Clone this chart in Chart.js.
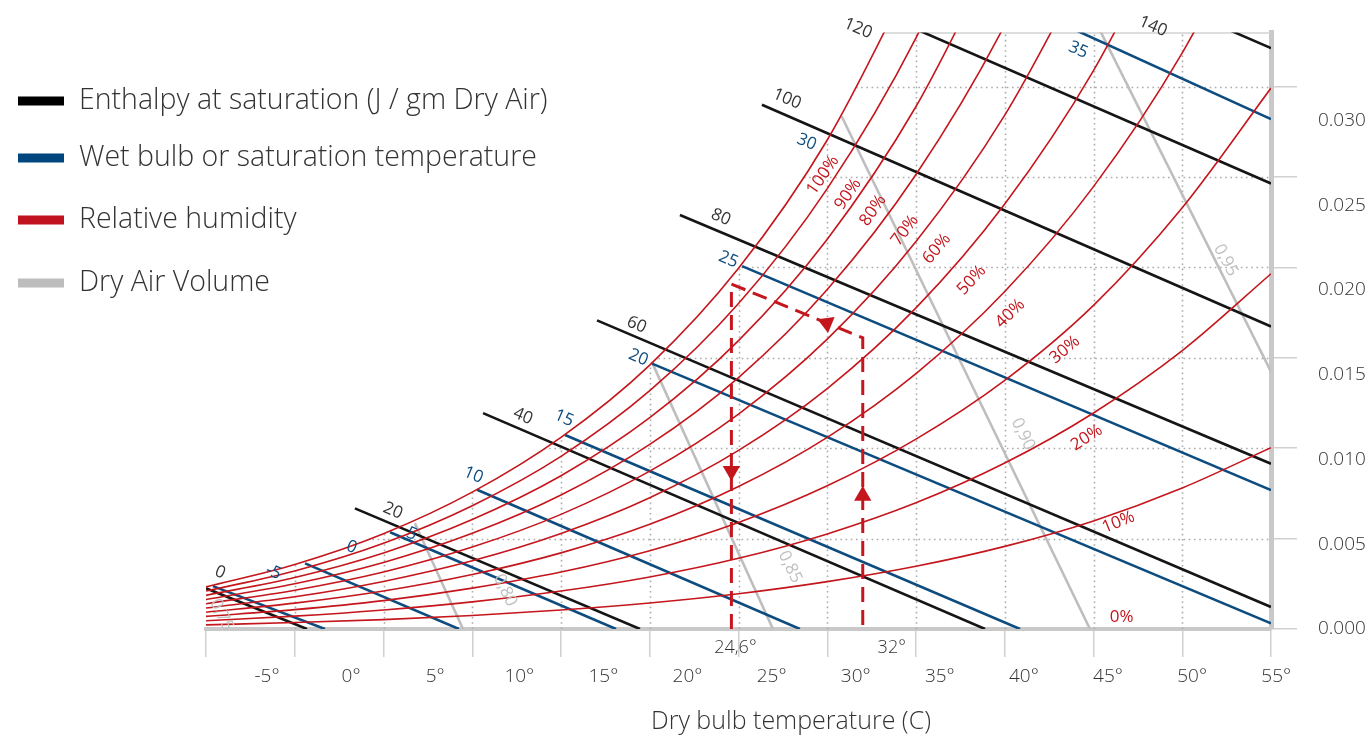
<!DOCTYPE html>
<html><head><meta charset="utf-8">
<script src="https://cdn.jsdelivr.net/npm/chart.js@4.4.1/dist/chart.umd.min.js"></script>
<style>html,body{margin:0;padding:0;background:#fff;}#wrap{width:1372px;height:741px;}</style>
</head><body><div id="wrap"><canvas id="c" width="1372" height="741"></canvas></div>
<script>
// ---------------- data ----------------
const TEMPS = [-5,0,5,10,15,20,25,30,35,40,45,50,55];
const RH_10  = [0.00023,0.00036,0.00052,0.00075,0.00105,0.00144,0.00195,0.00262,0.00347,0.00457,0.00598,0.00780,0.01003];
const RH_20  = [0.00046,0.00071,0.00105,0.00150,0.00210,0.00288,0.00391,0.00526,0.00698,0.00918,0.01195,0.01540,0.01965];
const RH_30  = [0.00070,0.00107,0.00157,0.00226,0.00315,0.00433,0.00589,0.00792,0.01050,0.01375,0.01790,0.02330,0.02992];
const RH_40  = [0.00093,0.00143,0.00210,0.00301,0.00421,0.00579,0.00788,0.01060,0.01413,0.01867,0.02447,0.03187,0.04125];
const RH_50  = [0.00116,0.00178,0.00263,0.00377,0.00528,0.00726,0.00988,0.01330,0.01776,0.02351,0.03089,0.04035];
const RH_60  = [0.00140,0.00214,0.00315,0.00453,0.00634,0.00873,0.01189,0.01603,0.02143,0.02842,0.03744];
const RH_70  = [0.00163,0.00250,0.00368,0.00529,0.00741,0.01021,0.01391,0.01878,0.02514,0.03341,0.04412];
const RH_80  = [0.00186,0.00285,0.00421,0.00606,0.00848,0.01169,0.01595,0.02156,0.02890,0.03848];
const RH_90  = [0.00210,0.00321,0.00474,0.00682,0.00955,0.01318,0.01800,0.02436,0.03270,0.04362];
const RH_100 = [0.00233,0.00357,0.00527,0.00757,0.01060,0.01460,0.01995,0.02705,0.03650];
const RH_LABELS = ['10%','20%','30%','40%','50%','60%','70%','80%','90%','100%'];

// enthalpy lines (J/g dry air): start and end points
const ENTH_VALUES = [0,20,40,60,80,100,120,140];
const ENTH_T0 = [-5, 3.39, 10.61, 17.03, 21.70, 26.32, 35.18, 52.72];
const ENTH_W0 = [0.00225,0.00667,0.01194,0.01707,0.02290,0.02900,0.0331,0.0331];
const ENTH_T1 = [0.69, 19.45, 38.89, 55, 55, 55, 55, 55];
const ENTH_W1 = [0, 0, 0, 0.00122, 0.00914, 0.01673, 0.02464, 0.03213];

// wet bulb lines (C)
const WB_VALUES = [-5,0,5,10,15,20,25,35];
const WB_T0 = [-4.61, 0.58, 5.37, 10.27, 15.23, 20.13, 25.20, 44.05];
const WB_W0 = [0.00237,0.00363,0.00535,0.00770,0.01073,0.01468,0.02007,0.0331];
const WB_T1 = [1.70, 9.25, 18.10, 28.46, 40.86, 55, 55, 55];
const WB_W1 = [0, 0, 0, 0, 0, 0.00031, 0.00768, 0.02820];

// dry air volume lines (m3/kg)
const VOL_VALUES = [0.80, 0.85, 0.90, 0.95];
const VOL_T0 = [6.77, 20.11, 30.81, 45.37];
const VOL_W0 = [0.00585, 0.01479, 0.02836, 0.0331];
const VOL_T1 = [9.48, 26.94, 44.80, 55];
const VOL_W1 = [0, 0, 0, 0.01423];

// process path (dashed) and its arrows
const PROCESS_T = [24.6, 24.6, 32, 32];
const PROCESS_W = [0, 0.01908, 0.01611, 0];
const ARROW_T = [24.6, 32, 29.97];
const ARROW_W = [0.00874, 0.00737, 0.01692];
const ARROW_ROT = [180, 0, -67.7];

// axis ticks & labels
const GRID_T = [-5,0,5,10,15,20,25,30,35,40,45,50,55];
const GRID_W = [0,0.005,0.010,0.015,0.020,0.025,0.030];
const X_LABELS = [-5,0,5,10,15,20,25,30,35,40,45,50,55];
const Y_LABELS = [0,0.005,0.010,0.015,0.020,0.025,0.030];
const MARK_TEXT = ['24,6°','32°'];
const MARK_T = [24.6, 32];

const LEGEND_TEXT = ['Enthalpy at saturation (J / gm Dry Air)','Wet bulb or saturation temperature','Relative humidity','Dry Air Volume'];

// ---------------- styles ----------------
const RED='#c4161c', BLUE='#0d4c7f', BLACK='#151515', GRAY='#bebebe';
const LEGEND_COLORS=['#000000','#00467e','#c1121f','#bdbdbd'];
const FONT='"Open Sans", Lato, sans-serif';
const W8='300', W8S='400';
const TXT='#333333';

// label annotations: text, T, W, rotation(deg), color
const LINE_LABELS = [
  ['0',-4.21,0.00313,23,TXT],['20',5.53,0.00654,23,TXT],['40',12.86,0.01177,23,TXT],['60',19.26,0.01683,23,TXT],
  ['80',24.01,0.02277,23,TXT],['100',27.73,0.02932,23,TXT],['120',31.73,0.03322,23,TXT],['140',48.35,0.03333,23,TXT],
  ['-5',-1.21,0.00315,23,BLUE],['0',3.21,0.00453,23,BLUE],['5',6.59,0.00526,23,BLUE],['10',10.06,0.00852,23,BLUE],
  ['15',15.17,0.01166,23,BLUE],['20',19.36,0.01501,23,BLUE],['25',24.43,0.02044,23,BLUE],['30',28.84,0.02693,23,BLUE],
  ['35',44.14,0.03203,23,BLUE],
  ['0,75',-4.12,0.00077,64,'#c0c0c0'],['0,80',11.85,0.00214,64,'#c0c0c0'],['0,85',27.90,0.00343,64,'#c0c0c0'],
  ['0,90',41.03,0.01078,64,'#c0c0c0'],['0,95',52.45,0.02040,62,'#c0c0c0'],
  ['100%',29.76,0.02510,-55,RED],['90%',31.17,0.02405,-55,RED],['80%',32.58,0.02315,-55,RED],['70%',34.38,0.02205,-53,RED],
  ['60%',36.17,0.02103,-50,RED],['50%',38.14,0.01929,-47,RED],['40%',40.30,0.01745,-44,RED],['30%',43.39,0.01544,-40,RED],
  ['20%',44.62,0.01058,-33,RED],['10%',46.40,0.00590,-22,RED],['0%',46.59,0.00064,0,RED]
];

// ---------------- datasets ----------------
const curve = (W) => W.map((w,i)=>({x:TEMPS[i], y:w}));
const seg = (T0,W0,T1,W1,i) => [{x:T0[i],y:W0[i]},{x:T1[i],y:W1[i]}];
const base = {pointRadius:0,pointHoverRadius:0,fill:false,clip:0,capBezierPoints:false};

const datasets = [];
datasets.push(Object.assign({}, base, {label:'process', data:PROCESS_T.map((t,i)=>({x:t,y:PROCESS_W[i]})),
  borderColor:RED, borderWidth:3, borderDash:[15,8], tension:0}));
datasets.push({label:'arrows', data:ARROW_T.map((t,i)=>({x:t,y:ARROW_W[i]})), showLine:false,
  pointStyle:'triangle', pointRadius:10, pointHoverRadius:10, pointRotation:ARROW_ROT,
  backgroundColor:RED, borderColor:RED, borderWidth:0, clip:false});
const RH_SERIES=[RH_10,RH_20,RH_30,RH_40,RH_50,RH_60,RH_70,RH_80,RH_90,RH_100];
RH_SERIES.forEach((s,i)=>datasets.push(Object.assign({}, base, {label:'RH '+RH_LABELS[i], data:curve(s),
  borderColor:RED, borderWidth:1.6, cubicInterpolationMode:'monotone'})));
const SAT_INDEX = datasets.length-1;
ENTH_VALUES.forEach((v,i)=>datasets.push(Object.assign({}, base, {label:'h '+v, data:seg(ENTH_T0,ENTH_W0,ENTH_T1,ENTH_W1,i),
  borderColor:BLACK, borderWidth:2.6})));
WB_VALUES.forEach((v,i)=>datasets.push(Object.assign({}, base, {label:'wb '+v, data:seg(WB_T0,WB_W0,WB_T1,WB_W1,i),
  borderColor:BLUE, borderWidth:2.6})));
VOL_VALUES.forEach((v,i)=>datasets.push(Object.assign({}, base, {label:'v '+v, data:seg(VOL_T0,VOL_W0,VOL_T1,VOL_W1,i),
  borderColor:GRAY, borderWidth:2.6})));

// ---------------- plugins ----------------
const gridPlugin = {
  id:'satGrid',
  beforeDatasetsDraw(chart){
    const {ctx, chartArea:a, scales:{x,y}} = chart;
    const meta = chart.getDatasetMeta(SAT_INDEX);
    const line = meta.dataset, p = meta.data;
    ctx.save();
    ctx.beginPath();
    if (line && typeof line.path === 'function') {
      if (line.updateControlPoints) line.updateControlPoints(a, 'x');
      line.path(ctx);
    } else {
      ctx.moveTo(p[0].x,p[0].y); p.forEach(q=>ctx.lineTo(q.x,q.y));
    }
    const last=p[p.length-1], first=p[0];
    ctx.lineTo(a.right+60,last.y); ctx.lineTo(a.right+60,a.bottom+60);
    ctx.lineTo(first.x-60,a.bottom+60); ctx.lineTo(first.x-60,first.y); ctx.closePath();
    ctx.clip();
    ctx.strokeStyle='#ababab'; ctx.lineWidth=1.6; ctx.setLineDash([1.6,3.6]);
    ctx.beginPath();
    GRID_T.slice(1,-1).forEach(t=>{const px=Math.round(x.getPixelForValue(t))+0.5; ctx.moveTo(px,a.bottom); ctx.lineTo(px,a.top);});
    GRID_W.slice(1).forEach(w=>{const py=Math.round(y.getPixelForValue(w))+0.5; ctx.moveTo(a.left,py); ctx.lineTo(a.right,py);});
    ctx.stroke();
    ctx.setLineDash([]); ctx.strokeStyle='#d2d2d2'; ctx.lineWidth=1.5;
    ctx.beginPath(); ctx.moveTo(a.left,a.top+0.5); ctx.lineTo(a.right,a.top+0.5); ctx.stroke();
    ctx.restore();
  }
};

const labelPlugin = {
  id:'labels',
  afterDraw(chart){
    const {ctx, chartArea:a, scales:{x,y}} = chart;
    ctx.save();
    ctx.textAlign='center'; ctx.textBaseline='middle';
    ctx.font=W8S+' 17px '+FONT;
    LINE_LABELS.forEach(([t,T,W,rot,col])=>{
      ctx.save();
      ctx.translate(x.getPixelForValue(T), y.getPixelForValue(W));
      ctx.rotate(rot*Math.PI/180);
      ctx.fillStyle=col; ctx.fillText(t,0,0);
      ctx.restore();
    });
    // marker labels below the axis
    ctx.fillStyle=TXT; ctx.font=W8+' 18px '+FONT;
    ctx.fillText(MARK_TEXT[0], x.getPixelForValue(MARK_T[0])+4, a.bottom+19);
    ctx.fillText(MARK_TEXT[1], x.getPixelForValue(MARK_T[1])+29, a.bottom+19);
    // axis title
    ctx.font=W8+' 25px '+FONT; ctx.fillStyle=TXT;
    ctx.fillText('Dry bulb temperature (C)', 791, 722);
    // legend
    ctx.textAlign='left';
    const rows=[101,158,220,283];
    LEGEND_TEXT.forEach((s,i)=>{
      ctx.fillStyle=LEGEND_COLORS[i]; ctx.fillRect(18,rows[i]-4.5,46,9);
      ctx.fillStyle=TXT; ctx.font=W8+' 28.5px '+FONT; ctx.fillText(s,79,rows[i]);
    });
    ctx.restore();
  }
};

// ---------------- chart ----------------
const setTicks = (vals) => (s) => { s.ticks = vals.map(v=>({value:v})); };
new Chart(document.getElementById('c'), {
  type:'line',
  data:{datasets},
  options:{
    responsive:false, animation:false, events:[],
    layout:{padding:{left:206, top:29, right:0, bottom:0}},
    plugins:{legend:{display:false}, tooltip:{enabled:false}, title:{display:false}},
    scales:{
      x:{type:'linear', min:-5, max:55, position:'bottom', weight:0,
        afterBuildTicks:setTicks(GRID_T),
        grid:{drawOnChartArea:false, drawTicks:true, tickLength:28, color:'#d0d0d0', lineWidth:1.5},
        border:{display:true, color:'#c9c9c9', width:4},
        ticks:{display:false}, afterFit:(s)=>{s.height=30;}},
      xl:{type:'linear', min:-8.627, max:54.69, position:'bottom', weight:1,
        afterBuildTicks:setTicks(X_LABELS),
        grid:{display:false, drawTicks:false}, border:{display:false},
        ticks:{callback:(v)=>v+'°', font:{family:FONT, size:19, weight:W8}, color:TXT, padding:6, maxRotation:0, autoSkip:false},
        afterFit:(s)=>{s.height=82;}},
      y:{type:'linear', min:0, max:0.033, position:'right', weight:0,
        afterBuildTicks:setTicks(GRID_W),
        grid:{drawOnChartArea:false, drawTicks:true, tickLength:26, color:'#d0d0d0', lineWidth:1.5},
        border:{display:true, color:'#c9c9c9', width:5},
        ticks:{display:false}, afterFit:(s)=>{s.width=26;}},
      yl:{type:'linear', min:0, max:0.0352, position:'right', weight:1,
        afterBuildTicks:setTicks(Y_LABELS),
        grid:{display:false, drawTicks:false}, border:{display:false},
        ticks:{callback:(v)=>v.toFixed(3), font:{family:FONT, size:19, weight:W8}, color:TXT, padding:21, crossAlign:'near', autoSkip:false},
        afterFit:(s)=>{s.width=75;}}
    }
  },
  plugins:[gridPlugin, labelPlugin]
});
</script></body></html>
